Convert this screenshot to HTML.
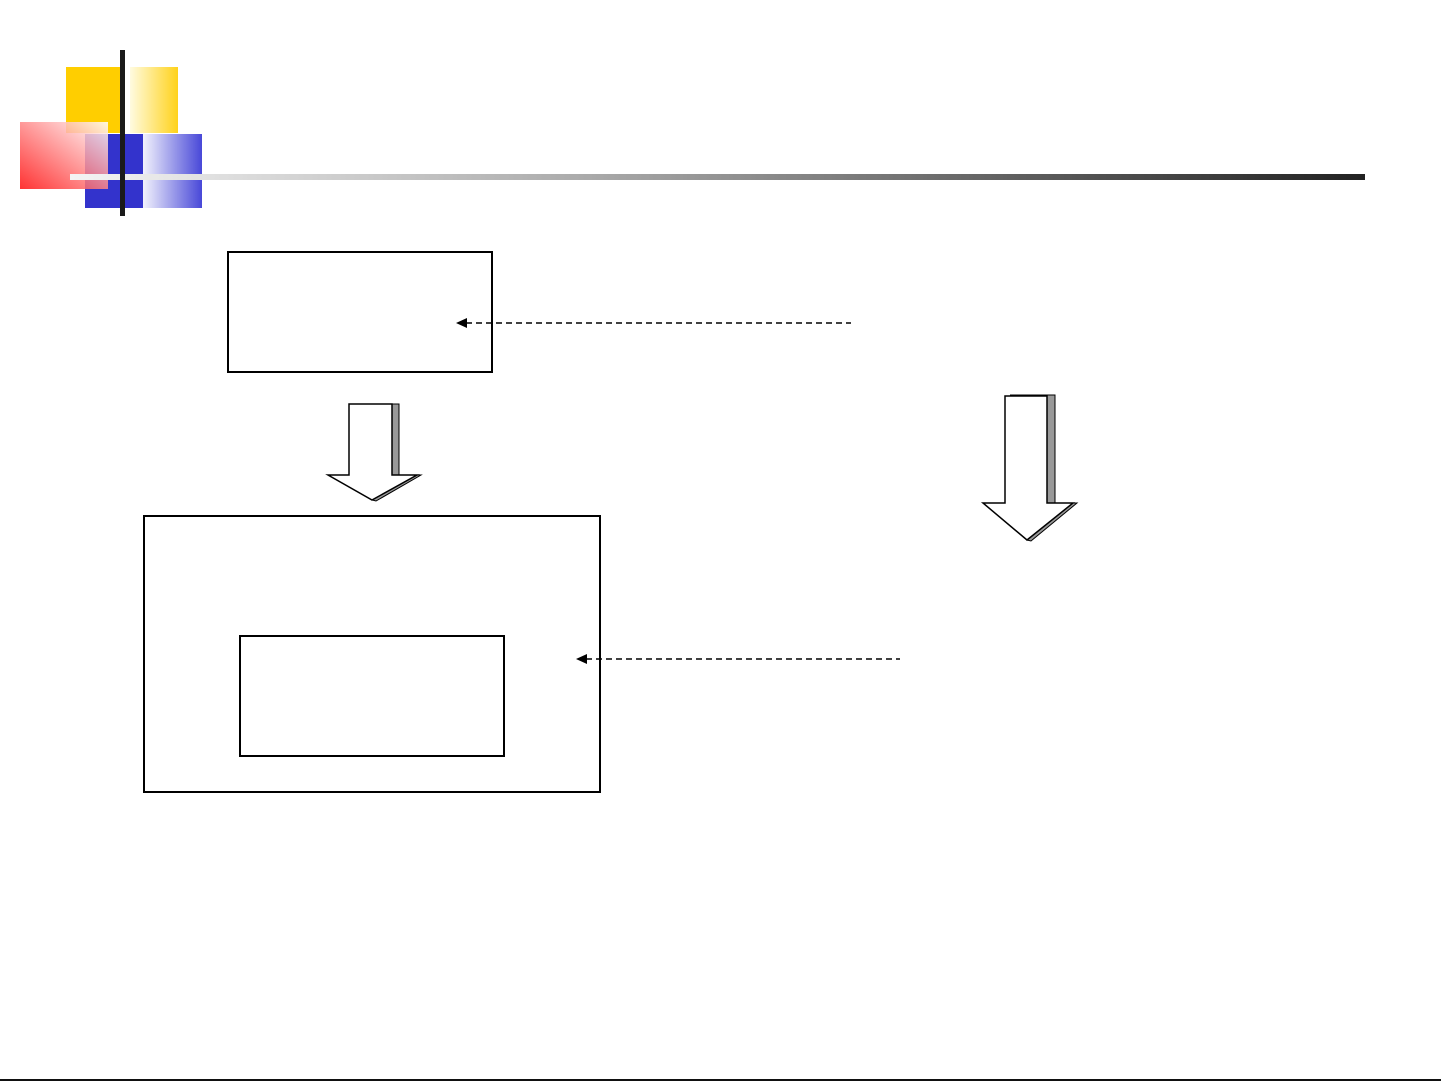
<!DOCTYPE html>
<html><head><meta charset="utf-8"><style>html,body{margin:0;padding:0;background:#fff}svg{display:block}</style></head>
<body>
<svg width="1441" height="1081" viewBox="0 0 1441 1081" xmlns="http://www.w3.org/2000/svg">
<defs>
<linearGradient id="yg" x1="0" x2="1" y1="0" y2="0"><stop offset="0" stop-color="#fffbe0"/><stop offset="1" stop-color="#ffd21a"/></linearGradient>
<linearGradient id="bg" x1="0" x2="1" y1="0" y2="0"><stop offset="0" stop-color="#f2f2fc"/><stop offset="1" stop-color="#4848d8"/></linearGradient>
<linearGradient id="rg" x1="0" y1="1" x2="1" y2="0"><stop offset="0" stop-color="#ff0f0f"/><stop offset="1" stop-color="#ffffff"/></linearGradient>
<linearGradient id="lg" x1="0" x2="1" y1="0" y2="0"><stop offset="0" stop-color="#f4f4f4"/><stop offset="0.4" stop-color="#aaaaaa"/><stop offset="1" stop-color="#222"/></linearGradient>
</defs>
<rect x="66" y="67" width="56" height="66" fill="#ffce00"/>
<rect x="130" y="67" width="48" height="66" fill="url(#yg)"/>
<rect x="85" y="134" width="58" height="74" fill="#3333cc"/>
<rect x="143" y="134" width="59" height="74" fill="url(#bg)"/>
<rect x="20" y="122" width="88" height="67" fill="url(#rg)" opacity="0.85"/>
<rect x="70" y="174" width="1295" height="6" fill="url(#lg)"/>
<rect x="120" y="50" width="5" height="166" fill="#1a1a1a"/>

<g fill="none" stroke="#000" stroke-width="2">
<rect x="228" y="252" width="264" height="120"/>
<rect x="144" y="516" width="456" height="276"/>
<rect x="240" y="636" width="264" height="120"/>
</g>

<g stroke="#000" stroke-width="1.5" stroke-dasharray="6,4" fill="none">
<line x1="466" y1="323" x2="851" y2="323"/>
<line x1="586" y1="659" x2="900" y2="659"/>
</g>
<polygon points="456,323 467,318 467,328" fill="#000"/>
<polygon points="576,659 587,654 587,664" fill="#000"/>

<!-- arrow 1 -->
<polygon points="353,404 399,404 399,475 421,475 376,501 372,500 392,475 392,404" fill="#999" stroke="#000" stroke-width="1"/>
<polygon points="349,404 392,404 392,475 417,475 372,500 328,475 349,475" fill="#fff" stroke="#000" stroke-width="1.5"/>
<!-- arrow 2 -->
<polygon points="1010,395 1055,395 1055,503 1077,503 1031,541 1027,540 1047,503 1047,395" fill="#999" stroke="#000" stroke-width="1"/>
<polygon points="1005,396 1047,396 1047,503 1073,503 1027,540 983,503 1005,503" fill="#fff" stroke="#000" stroke-width="1.5"/>

<rect x="0" y="1079" width="1441" height="2" fill="#111"/>
</svg>
</body></html>
